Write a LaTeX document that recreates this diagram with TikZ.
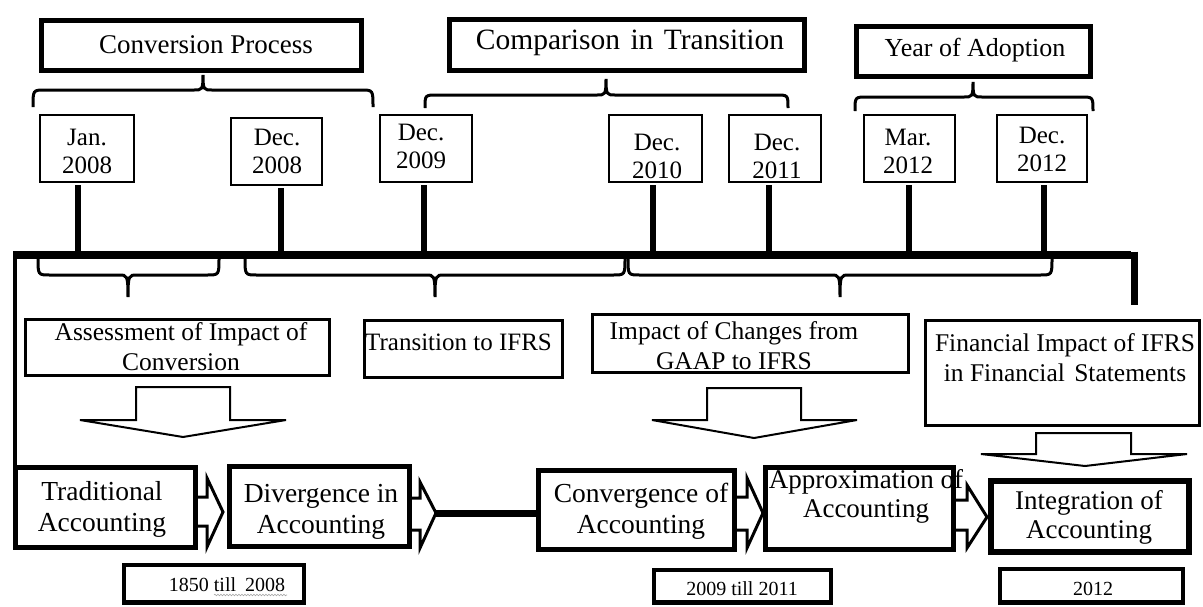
\documentclass[tikz,border=0pt]{standalone}
\usepackage{fontspec}
\setmainfont{Liberation Serif}
\usetikzlibrary{decorations.pathmorphing}
\newcommand\bxx[6]{\node[#1, minimum width={(#5)-(#3)}, minimum height={(#6)-(#4)}] (#2) at ({((#3)+(#5))/2},{((#4)+(#6))/2}) {};}
\newcommand\bracepath[6]{\draw[bracestyle] (#1,#4) .. controls (#1,#5) .. (#1+12,#5) -- (#3-9,#5) .. controls (#3-1,#5) and (#3,#5) .. (#3,#6) .. controls (#3,#5) and (#3+1,#5) .. (#3+9,#5) -- (#2-12,#5) .. controls (#2,#5) .. (#2,#4);}
\begin{document}
\begin{tikzpicture}[x=1pt,y=-1pt,
  anybox/.style={draw=black, inner sep=0pt, outer sep=0pt},
  tbox/.style={anybox, line width=5pt},
  dbox/.style={anybox, line width=2.5pt},
  lbox/.style={anybox, line width=2.8pt},
  fbox/.style={anybox, line width=5pt},
  ibox/.style={anybox, line width=6pt},
  ybox/.style={anybox, line width=4.5pt},
  ttl/.style={inner sep=0pt, font=\fontsize{27}{30}\selectfont},
  dtxt/.style={inner sep=0pt, align=center, font=\fontsize{25}{28}\selectfont},
  ltxt/.style={inner sep=0pt, align=center, font=\fontsize{25.5}{30}\selectfont},
  ftxt/.style={inner sep=0pt, align=center, font=\fontsize{27.5}{31}\selectfont},
  stxt/.style={inner sep=0pt, font=\fontsize{20}{22}\selectfont},
  bracestyle/.style={line width=3pt},
  tickline/.style={line width=5.5pt, shorten <=3pt},
  mainline/.style={line width=7.5pt},
  barrow/.style={draw=black, line width=2pt, line join=miter, fill=white},
  oarrow/.style={draw=black, line width=3pt, line join=miter}
]
\useasboundingbox (0,0) rectangle (1203,606);

% ---------- title boxes ----------
\bxx{tbox}{conv}{41.5}{20.5}{361.5}{70.5}
\node[ttl] (conv-t) at (206,45) {Conversion Process};
\bxx{tbox}{comp}{449.5}{19.5}{804.5}{70.5}
\node[ttl, font=\fontsize{29.5}{32}\selectfont] (comp-t) at (630,43) {Comparison\hspace{3pt} in\hspace{3pt} Transition};
\bxx{tbox}{year}{856.5}{26.5}{1090.5}{76.5}
\node[ttl, font=\fontsize{26}{30}\selectfont] (year-t) at (975,50) {Year of Adoption};

% ---------- upper braces ----------
\bracepath{33}{373}{203}{107}{90}{75}
\bracepath{425}{788}{606}{108}{95}{79}
\bracepath{855}{1093}{973}{111}{97}{82}

% ---------- date boxes ----------
\bxx{dbox}{jan08}{40}{115}{134}{182}
\node[dtxt] (jan08-t) at (87,151) {Jan.\\2008};
\bxx{dbox}{dec08}{231}{118}{322}{185}
\node[dtxt] (dec08-t) at (277,151) {Dec.\\2008};
\bxx{dbox}{dec09}{380}{115}{472}{182}
\node[dtxt] (dec09-t) at (421,146) {Dec.\\2009};
\bxx{dbox}{dec10}{609}{115}{702}{182}
\node[dtxt] (dec10-t) at (657,156) {Dec.\\2010};
\bxx{dbox}{dec11}{729}{115}{821}{182}
\node[dtxt] (dec11-t) at (777,156) {Dec.\\2011};
\bxx{dbox}{mar12}{864}{115}{955}{182}
\node[dtxt] (mar12-t) at (908,151) {Mar.\\2012};
\bxx{dbox}{dec12}{997}{115}{1087}{182}
\node[dtxt] (dec12-t) at (1042,149) {Dec.\\2012};

% ---------- timeline ----------
\coordinate (tlL) at (13,255);
\coordinate (tlR) at (1131,255);
\draw[mainline] (tlL) -- (tlR);
\coordinate (barT) at (1134.5,251.5);
\coordinate (barB) at (1134.5,305);
\draw[line width=7pt] (barT) -- (barB);
\coordinate (vL) at (15,252);
\coordinate (vLb) at (15,508);
\draw[line width=4pt] (vL) -- (vLb);

\coordinate (k1) at (78,255);
\coordinate (k2) at (281,255);
\coordinate (k3) at (424,255);
\coordinate (k4) at (653,255);
\coordinate (k5) at (769,255);
\coordinate (k6) at (909,255);
\coordinate (k7) at (1044,255);
\draw[tickline] (k1 |- jan08.south) -- (k1);
\draw[tickline] (k2 |- dec08.south) -- (k2);
\draw[tickline] (k3 |- dec09.south) -- (k3);
\draw[tickline] (k4 |- dec10.south) -- (k4);
\draw[tickline] (k5 |- dec11.south) -- (k5);
\draw[tickline] (k6 |- mar12.south) -- (k6);
\draw[tickline] (k7 |- dec12.south) -- (k7);

% ---------- lower braces ----------
\bracepath{38}{219}{128}{258}{275}{297}
\bracepath{245}{625}{435}{258}{275}{297}
\bracepath{628}{1052}{840}{258}{275}{297}

% ---------- label boxes ----------
\bxx{lbox}{assess}{25.5}{319.5}{329.5}{375.5}
\node[ltxt] (assess-t) at (181,347) {Assessment of Impact of\\Conversion};
\bxx{lbox}{trans}{364.5}{320.5}{562.5}{377.5}
\node[ltxt, anchor=west, font=\fontsize{25}{30}\selectfont] (trans-t) at (365,342) {Transition to IFRS};
\bxx{lbox}{impact}{592.5}{314.5}{908.5}{372.5}
\node[ltxt] (impact-t) at (734,346) {Impact of Changes from\\GAAP to IFRS};
\bxx{lbox}{fin}{925.5}{320.5}{1199.5}{425.5}
\node[ltxt] (fin-t) at (1065,358) {Financial Impact of IFRS\\in Financial\hspace{3pt} Statements};

% ---------- big down arrows ----------
\draw[barrow] (136,387) -- (136,420) -- (80,420) -- (183,437) -- (286,420) -- (230,420) -- (230,387) -- cycle;
\draw[barrow] (707,388) -- (707,420) -- (652,420) -- (754,438) -- (857,420) -- (801,420) -- (801,388) -- cycle;
\draw[barrow] (1036,433) -- (1036,454) -- (981,454) -- (1085,466) -- (1187,454) -- (1131,454) -- (1131,433) -- cycle;

% ---------- flow boxes ----------
\bxx{fbox}{trad}{15.5}{467.5}{195.5}{547.5}
\node[ftxt] (trad-t) at (102,509) {Traditional\\Accounting};
\bxx{fbox}{div}{229.5}{466.5}{409.5}{546.5}
\node[ftxt] (div-t) at (321,512) {Divergence in\\Accounting};
\bxx{fbox}{convg}{538.5}{470.5}{734.5}{549.5}
\node[ftxt] (convg-t) at (641,511) {Convergence of\\Accounting};
\bxx{fbox}{approx}{765.5}{467.5}{953.5}{549.5}
\node[ftxt, font=\fontsize{27}{29}\selectfont] (approx-t) at (866,496) {Approximation of\\Accounting};
\bxx{ibox}{integ}{991}{481}{1189}{552}
\node[ftxt, font=\fontsize{27}{29}\selectfont] (integ-t) at (1089,517) {Integration of\\Accounting};

% ---------- open arrows between flow boxes ----------
\draw[oarrow] (trad.east |- 0,497) -- (207,497) -- (207,478) -- (223,512) -- (207,547) -- (207,526) -- (trad.east |- 0,526);
\draw[oarrow] (div.east |- 0,498) -- (420,498) -- (420,482) -- (436,513) -- (420,548) -- (420,530) -- (div.east |- 0,530);
\coordinate (tipB) at (436,513);
\draw[line width=7pt] (tipB) -- (tipB -| convg.west);
\draw[oarrow] (convg.east |- 0,497) -- (747,497) -- (747,478) -- (763,513) -- (747,548) -- (747,530) -- (convg.east |- 0,530);
\draw[oarrow] (approx.east |- 0,500) -- (967,500) -- (967,485) -- (987,517) -- (967,548) -- (967,530) -- (approx.east |- 0,530);

% ---------- period boxes ----------
\bxx{ybox}{p1}{124}{565}{304}{602.5}
\node[stxt] (p1-t) at (227,585) {1850 till\hspace{4pt} 2008};
\draw[gray!70, line width=0.6pt, decorate, decoration={snake, amplitude=0.8pt, segment length=3pt}] (214,595) -- (287,595);
\bxx{ybox}{p2}{654}{570}{831}{602.5}
\node[stxt] (p2-t) at (742,589) {2009 till 2011};
\bxx{ybox}{p3}{1000}{569}{1183}{602.5}
\node[stxt] (p3-t) at (1093,589) {2012};
\end{tikzpicture}
\end{document}
